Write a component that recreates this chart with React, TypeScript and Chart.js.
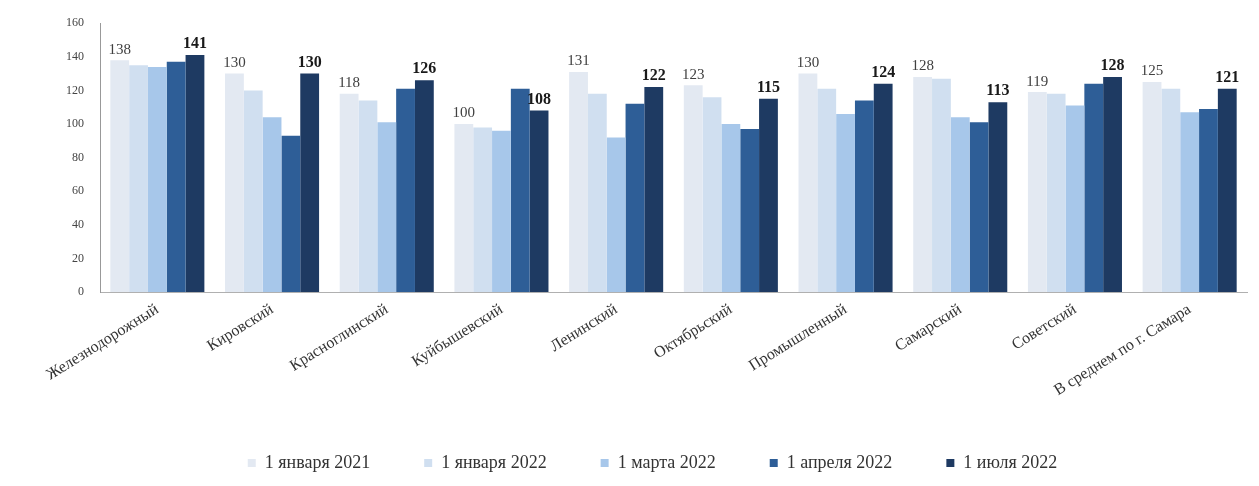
import React, { useEffect, useRef } from "react";
import { Chart, registerables } from "chart.js";

Chart.register(...registerables);

const categories = [
  "Железнодорожный",
  "Кировский",
  "Красноглинский",
  "Куйбышевский",
  "Ленинский",
  "Октябрьский",
  "Промышленный",
  "Самарский",
  "Советский",
  "В среднем по г. Самара",
];

const seriesNames = ["1 января 2021", "1 января 2022", "1 марта 2022", "1 апреля 2022", "1 июля 2022"];

const jan2021 = [138, 130, 118, 100, 131, 123, 130, 128, 119, 125];
const jan2022 = [135, 120, 114, 98, 118, 116, 121, 127, 118, 121];
const mar2022 = [134, 104, 101, 96, 92, 100, 106, 104, 111, 107];
const apr2022 = [137, 93, 121, 121, 112, 97, 114, 101, 124, 109];
const jul2022 = [141, 130, 126, 108, 122, 115, 124, 113, 128, 121];

const yTicks = [0, 20, 40, 60, 80, 100, 120, 140, 160];

const colors = ["#e3e9f2", "#d0dff0", "#a7c7ea", "#2e5e97", "#1e3a62"];
const labelled = [0, 4];

const SERIF = "'Liberation Serif', 'Times New Roman', serif";

const valueLabels = {
  id: "valueLabels",
  afterDatasetsDraw(chart: any) {
    const ctx = chart.ctx;
    ctx.save();
    ctx.textAlign = "center";
    ctx.textBaseline = "bottom";
    labelled.forEach((di) => {
      const meta = chart.getDatasetMeta(di);
      const data = chart.data.datasets[di].data as number[];
      ctx.font = di === 4 ? `bold 16px ${SERIF}` : `15px ${SERIF}`;
      ctx.fillStyle = di === 4 ? "#1a1a1a" : "#404040";
      meta.data.forEach((el: any, i: number) => {
        ctx.fillText(String(data[i]), el.x, el.y - 3);
      });
    });
    ctx.restore();
  },
};

export default function App() {
  const ref = useRef<HTMLCanvasElement>(null);
  useEffect(() => {
    if (!ref.current) return;
    const all = [jan2021, jan2022, mar2022, apr2022, jul2022];
    const chart = new Chart(ref.current, {
      type: "bar",
      data: {
        labels: categories,
        datasets: all.map((d, i) => ({
          label: seriesNames[i],
          data: d,
          backgroundColor: colors[i],
          borderWidth: 0,
          barPercentage: 1,
          categoryPercentage: 0.82,
        })),
      },
      options: {
        responsive: true,
        maintainAspectRatio: false,
        animation: false,
        layout: { padding: { left: 50, right: 4, top: 8, bottom: 0 } },
        plugins: {
          tooltip: { enabled: false },
          legend: {
            position: "bottom",
            labels: {
              boxWidth: 8,
              boxHeight: 8,
              padding: 54,
              color: "#333",
              font: { family: SERIF, size: 18 },
            },
          },
        },
        scales: {
          x: {
            grid: { display: false },
            border: { color: "#b0b0b0" },
            ticks: {
              minRotation: 32,
              maxRotation: 32,
              autoSkip: false,
              padding: 0,
              color: "#333",
              font: { family: SERIF, size: 16 },
            },
          },
          y: {
            min: 0,
            max: 160,
            grid: { display: false },
            border: { color: "#999" },
            afterBuildTicks: (axis: any) => {
              axis.ticks = yTicks.map((v) => ({ value: v }));
            },
            ticks: {
              color: "#444",
              padding: 8,
              font: { family: SERIF, size: 12 },
            },
          },
        },
      },
      plugins: [valueLabels],
    });
    return () => chart.destroy();
  }, []);
  return (
    <div style={{ width: 1243, height: 474, position: "relative" }}>
      <canvas ref={ref} />
    </div>
  );
}
